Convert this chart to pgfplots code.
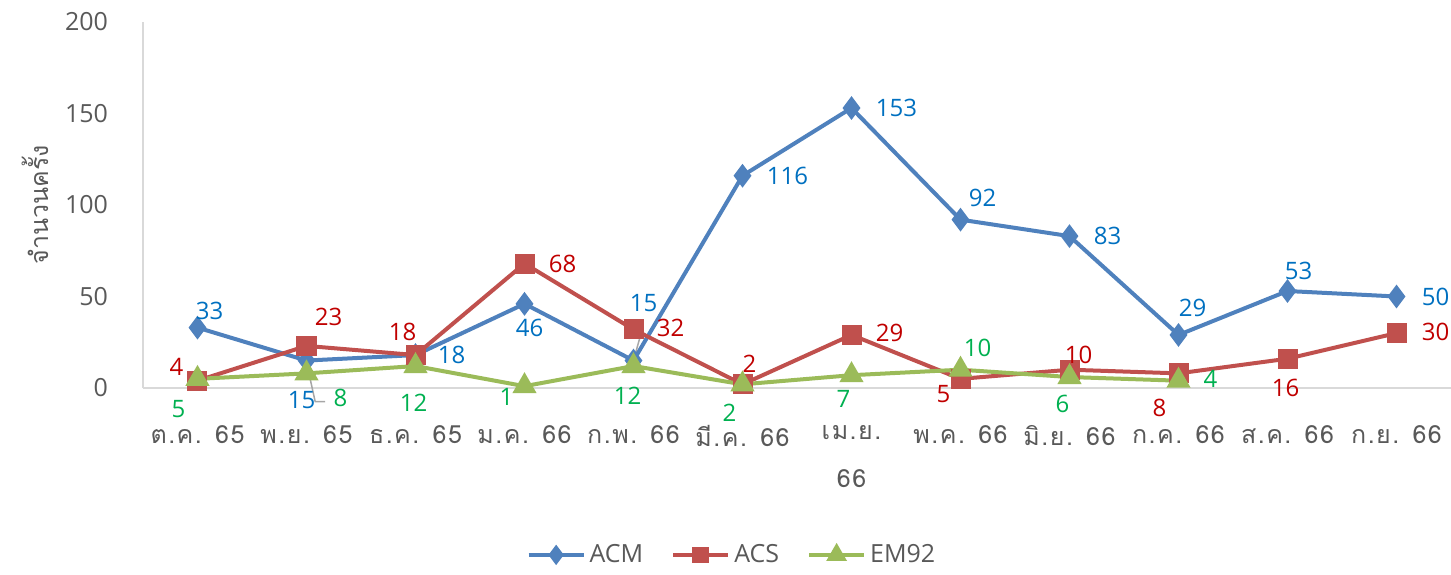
\documentclass[border=0pt]{standalone}
\usepackage{fontspec}
\setmainfont{Open Sans}
\newfontfamily\thai[Script=Thai]{Loma}
\newfontfamily\thaiwide[Script=Thai, LetterSpace=6]{Loma}
\usepackage{pgfplots}
\pgfplotsset{compat=1.18}
\usepackage{pgfplotstable}
\usetikzlibrary{calc}

\definecolor{acm}{HTML}{4F81BD}
\definecolor{acs}{HTML}{C0504D}
\definecolor{em}{HTML}{9BBB59}
\definecolor{acmlab}{HTML}{0070C0}
\definecolor{acslab}{HTML}{C00000}
\definecolor{emlab}{HTML}{00B050}
\definecolor{txt}{HTML}{595959}
\definecolor{axl}{HTML}{D9D9D9}

% x y, then label shift (pt)
\pgfplotstableread{
x y dx dy
0 33 6 8.5
1 15 -2.5 -19.5
2 18 18 0
3 46 2.5 -12
4 15 5 29
5 116 22.5 0
6 153 22.5 0
7 92 11 11
8 83 19 0
9 29 7 13.5
10 53 5.5 10
11 50 19.5 0
}\acm

\pgfplotstableread{
x y dx dy
0 4 -10.5 7
1 23 11 14.5
2 18 -6.5 11.5
3 68 19 0
4 32 18.5 1
5 2 3.5 10.5
6 29 19 1
7 5 -8.5 -7.5
8 10 4.5 7.5
9 8 -9.5 -17.5
10 16 -1 -14.5
11 30 19.5 0.5
}\acs

\pgfplotstableread{
x y dx dy
0 5 -9.5 -15
1 8 17 -12.5
2 12 -1 -18.5
3 1 -9 -5.5
4 12 -3 -15
5 2 -6.5 -14
6 7 -4 -12
7 10 8.5 11
8 6 -3.5 -13.5
9 4 16 1
}\emn

\pgfplotsset{
  lbl/.style={
    nodes near coords,
    visualization depends on={\thisrow{dx} \as \dx},
    visualization depends on={\thisrow{dy} \as \dy},
    every node near coord/.append style={anchor=center, xshift=\dx pt, yshift=\dy pt,
      text=#1, font=\fontsize{12}{14}\selectfont},
  },
}

\begin{document}
\begin{tikzpicture}
\begin{axis}[
  name=ax,
  scale only axis,
  width=654pt, height=183pt,
  xmin=-0.5, xmax=11.5,
  ymin=0, ymax=200,
  ytick={0,50,...,200},
  xtick={0,...,11},
  xticklabels={ต.ค. 65, พ.ย. 65, ธ.ค. 65, ม.ค. 66, ก.พ. 66, มี.ค. 66, เม.ย.\\66,
    พ.ค. 66, มิ.ย. 66, ก.ค. 66, ส.ค. 66, ก.ย. 66},
  axis x line*=bottom, axis y line*=left,
  axis line style={draw=axl, line width=1pt, -},
  major tick length=0pt,
  /pgf/number format/assume math mode=true,
  tick label style={text=txt, font=\fontsize{12.5}{15}\selectfont},
  yticklabel style={anchor=east, xshift=-14pt},
  xticklabel style={anchor=north, yshift=-15pt, align=center,
    font=\thaiwide\fontsize{12.5}{24}\selectfont},
  every axis y label/.style={at={(axis description cs:-0.0826,0.5)}, rotate=90, anchor=center},
  ylabel={\thai จำนวนครั้ง},
  ylabel style={text=txt, font=\thai\fontsize{12.5}{15}\selectfont},
  clip=false,
  legend columns=3,
  legend style={draw=none, at={(axis description cs:0.451,-0.456)}, anchor=center,
    font=\fontsize{12.5}{14}\selectfont, text=txt,
    /tikz/every even column/.append style={column sep=12pt}},
  legend image code/.code={\draw[mark repeat=2, mark phase=2, mark options={scale=0.8}] plot coordinates {(0pt,0pt) (13.75pt,0pt) (27.5pt,0pt)};},
]
% leader lines of two data labels
\addplot[gray!70, line width=0.75pt, forget plot] coordinates {(1.0,14) (1.08,-7.5) (1.17,-7.5)};
\addplot[gray!70, line width=0.75pt, forget plot] coordinates {(4.07,30) (4.0,15)};

\addplot[acm, line width=2pt, mark=diamond*, mark size=4.3pt, mark options={solid}, lbl=acmlab] table[x=x, y=y] {\acm};
\addlegendentry{ACM}
\addplot[acs, line width=2pt, mark=square*, mark size=4pt, lbl=acslab] table[x=x, y=y] {\acs};
\addlegendentry{ACS}
\addplot[em, line width=2pt, mark=triangle*, mark size=5pt, lbl=emlab] table[x=x, y=y] {\emn};
\addlegendentry{EM92}
\end{axis}
\pgfresetboundingbox
\path[use as bounding box] ($(ax.south west)+(-71.5pt,-93pt)$) rectangle ($(ax.north east)+(0pt,11pt)$);
\end{tikzpicture}
\end{document}
